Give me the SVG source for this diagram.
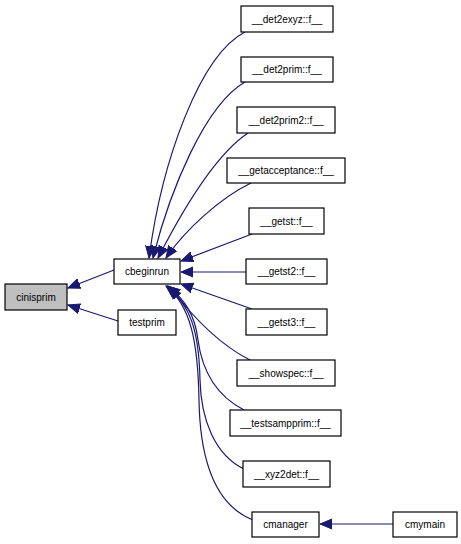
<svg xmlns="http://www.w3.org/2000/svg" width="461" height="544" viewBox="0 0 461 544">
<defs>
<style>
.n rect{fill:#fff;stroke:#000;stroke-width:1.2}
.n text{font-family:"Liberation Sans",Arial,sans-serif;font-size:10px;text-anchor:middle;fill:#000}
.e path{fill:none;stroke:#191970;stroke-width:1.2;marker-end:url(#ah)}
</style>
<marker id="ah" markerUnits="userSpaceOnUse" markerWidth="14" markerHeight="12" refX="12" refY="5" orient="auto" viewBox="0 0 14 10">
<path d="M0,0 L12,5 L0,10 Z" fill="#191970" stroke="#191970"/>
</marker>
</defs>
<rect width="461" height="544" fill="#fff"/>
<g id="edges" class="e">
<path d="M114,270 L68,288"/>
<path d="M118,321 L68,305"/>
<path d="M245,32 C200,55 162,160 149,258"/>
<path d="M245,82 C205,105 170,190 153,258"/>
<path d="M248,133 C215,155 180,215 158,258"/>
<path d="M251,183 C220,198 185,230 166,258"/>
<path d="M252,234 L181,261"/>
<path d="M246,272 L181,272"/>
<path d="M252,309 L181,284"/>
<path d="M250,360 C220,345 195,320 170,287"/>
<path d="M244,410 C215,395 202,370 198,340 C195,315 185,300 168,286"/>
<path d="M244,469 C215,455 201,420 200,380 C199,330 190,305 167,286"/>
<path d="M253,520 C215,505 200,460 199,400 C198,340 190,305 166,286"/>
<path d="M393,524 L320,524"/>
</g>
<g id="cinisprim" class="n"><rect x="5" y="284" width="62" height="26" style="fill:#bfbfbf"/><text x="36" y="301">cinisprim</text></g>
<g id="cbeginrun" class="n"><rect x="114" y="259" width="66" height="25"/><text x="147" y="275">cbeginrun</text></g>
<g id="testprim" class="n"><rect x="118" y="310" width="58" height="25"/><text x="147" y="326">testprim</text></g>
<g id="det2exyz" class="n"><rect x="241" y="6" width="92" height="26"/><text x="287" y="23">__det2exyz::f__</text></g>
<g id="det2prim" class="n"><rect x="241" y="57" width="92" height="25"/><text x="287" y="73">__det2prim::f__</text></g>
<g id="det2prim2" class="n"><rect x="237" y="107" width="98" height="26"/><text x="286" y="124">__det2prim2::f__</text></g>
<g id="getacceptance" class="n"><rect x="227" y="158" width="118" height="25"/><text x="286" y="174">__getacceptance::f__</text></g>
<g id="getst" class="n"><rect x="249" y="208" width="75" height="26"/><text x="286.5" y="225">__getst::f__</text></g>
<g id="getst2" class="n"><rect x="246" y="259" width="81" height="25"/><text x="286.5" y="275">__getst2::f__</text></g>
<g id="getst3" class="n"><rect x="246" y="309" width="81" height="26"/><text x="286.5" y="326">__getst3::f__</text></g>
<g id="showspec" class="n"><rect x="237" y="360" width="98" height="26"/><text x="286" y="377">__showspec::f__</text></g>
<g id="testsampprim" class="n"><rect x="230" y="410" width="111" height="26"/><text x="285.5" y="427">__testsampprim::f__</text></g>
<g id="xyz2det" class="n"><rect x="243" y="461" width="87" height="26"/><text x="286.5" y="478">__xyz2det::f__</text></g>
<g id="cmanager" class="n"><rect x="252" y="512" width="67" height="25"/><text x="285.5" y="528">cmanager</text></g>
<g id="cmymain" class="n"><rect x="393" y="512" width="64" height="25"/><text x="425" y="528">cmymain</text></g>
</svg>
